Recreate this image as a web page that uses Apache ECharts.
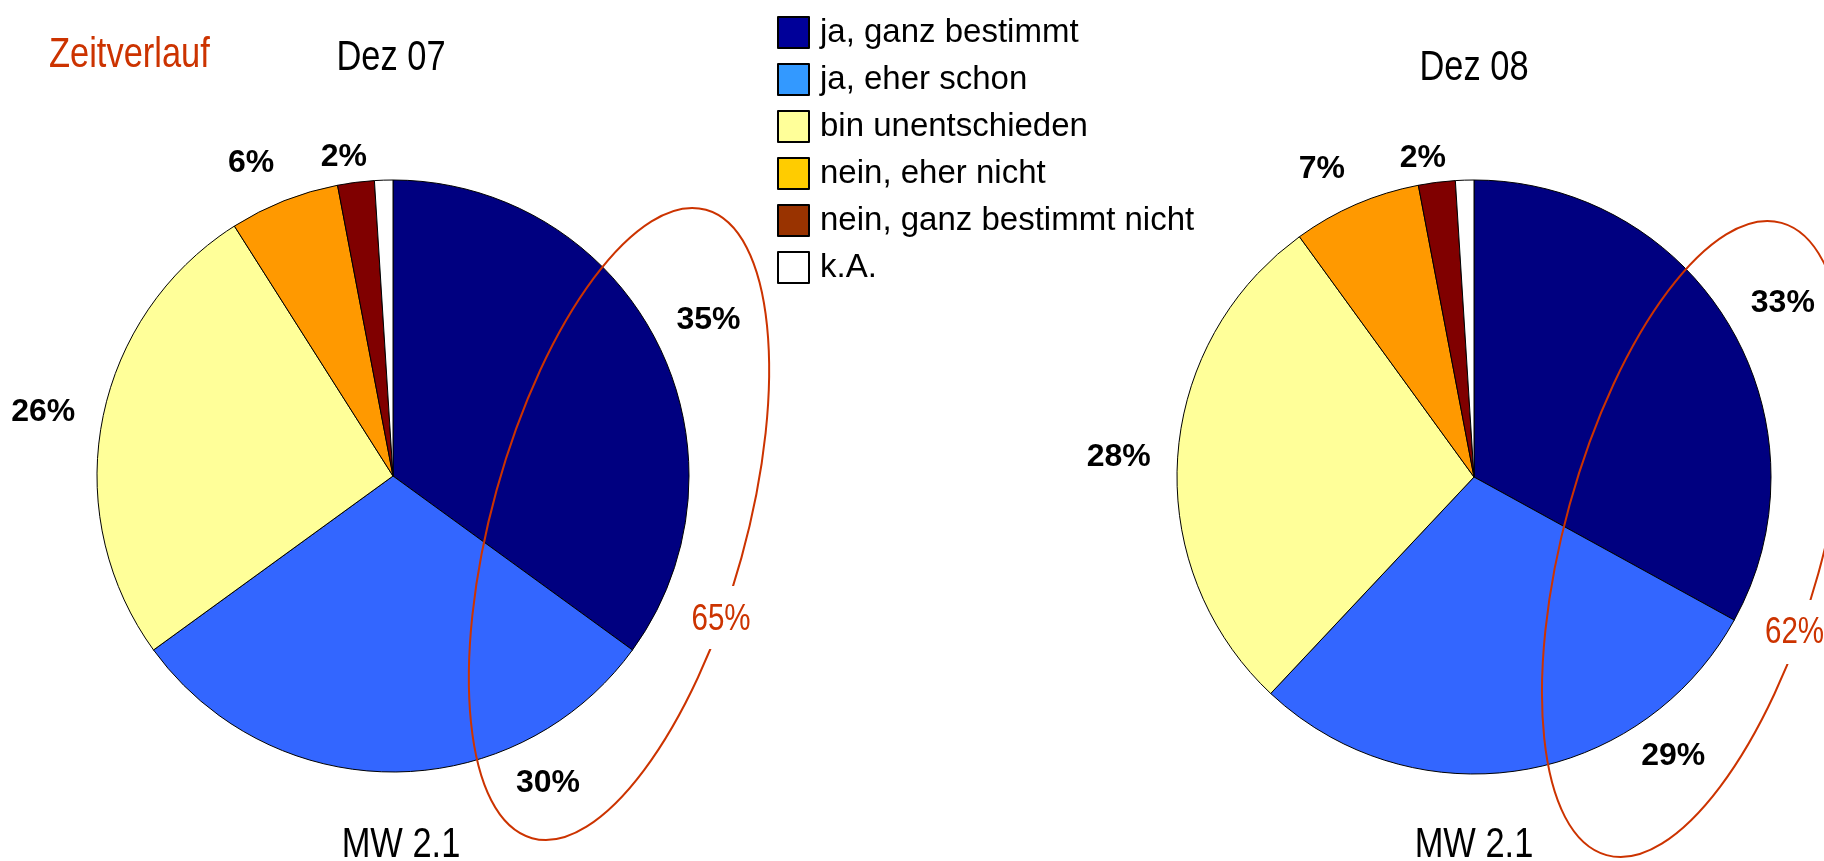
<!DOCTYPE html>
<html>
<head>
<meta charset="utf-8">
<script src="https://cdn.jsdelivr.net/npm/echarts@6/dist/echarts.min.js"></script>
<style>
  html, body { margin: 0; padding: 0; background: #fff; }
  #chart { width: 1824px; height: 861px; }
</style>
</head>
<body>
<div id="chart"></div>
<script>
// Antwortkategorien
const categories = ['ja, ganz bestimmt', 'ja, eher schon', 'bin unentschieden', 'nein, eher nicht', 'nein, ganz bestimmt nicht', 'k.A.']
// Anteile in Prozent
const valuesDez07 = [35, 30, 26, 6, 2, 1]
const valuesDez08 = [33, 29, 28, 7, 2, 1]
// Summe "ja" (ganz bestimmt + eher schon)
const jaSumDez07 = 65
const jaSumDez08 = 62
const titles = ['Dez 07', 'Dez 08']
const meanLabels = ['MW 2.1', 'MW 2.1']

const sliceColors = ['#000080', '#3366FF', '#FFFF99', '#FF9900', '#800000', '#FFFFFF']
const legendColors = ['#000099', '#3399FF', '#FFFF99', '#FFCC00', '#993300', '#FFFFFF']
const FONT = "'Liberation Sans Narrow', 'Arial Narrow', 'Liberation Sans', Arial, sans-serif"
const RED = '#CC3300'
const NARROW = 0.82 // schmale Schrift nachbilden

// kleine Verschiebungen der Beschriftungen (wie im Original)
const nudge07 = [[1, 4], [155, -46], [-3, 2], [-12, 15], [-5, 31], [0, 0]]
const nudge08 = [[5, 6], [144, -69], [-3, 2], [-12, 16], [-7, 31], [0, 0]]

const chart = echarts.init(document.getElementById('chart'))

const makePie = (values, center, radius) => ({
  type: 'pie',
  center: center,
  radius: radius,
  startAngle: 90,
  clockwise: true,
  silent: true,
  label: {show: false},
  labelLine: {show: false},
  itemStyle: {borderColor: '#000', borderWidth: 1},
  data: values.map((v, i) => ({
    name: categories[i],
    value: v,
    itemStyle: {color: sliceColors[i]}
  }))
})

// unsichtbarer Ring, nur für die Prozentbeschriftungen
const makeLabelRing = (values, center, nudge) => ({
  type: 'pie',
  center: center,
  radius: [330, 370],
  startAngle: 90,
  clockwise: true,
  silent: true,
  itemStyle: {color: 'rgba(0,0,0,0)', borderWidth: 0},
  labelLine: {show: false},
  label: {
    show: true,
    position: 'inside',
    formatter: '{c}%',
    color: '#000',
    fontFamily: FONT,
    fontWeight: 'bold',
    fontSize: 32
  },
  data: values.map((v, i) => ({
    name: categories[i],
    value: v,
    label: {show: i < 5, offset: nudge[i]}
  }))
})

const txt = (text, x, y, size, color, align) => ({
  type: 'text', x: x, y: y, scaleX: NARROW, z: 12,
  style: {text: text, fill: color, font: size + 'px ' + FONT, align: align || 'center', verticalAlign: 'middle'}
})

const option = {
  animation: false,
  backgroundColor: '#fff',
  legend: {
    orient: 'vertical',
    left: 777,
    top: 16,
    padding: 0,
    icon: 'rect',
    itemWidth: 31,
    itemHeight: 31,
    itemGap: 14,
    selectedMode: false,
    textStyle: {fontFamily: FONT, fontSize: 33, color: '#000', padding: [0, 0, 0, 6]},
    data: categories.map((c, i) => ({
      name: c,
      itemStyle: {color: legendColors[i], borderColor: '#000', borderWidth: 2}
    }))
  },
  series: [
    makePie(valuesDez07, [393, 476], 296),
    makePie(valuesDez08, [1474, 477], 297),
    makeLabelRing(valuesDez07, [393, 476], nudge07),
    makeLabelRing(valuesDez08, [1474, 477], nudge08)
  ],
  graphic: [
    txt('Zeitverlauf', 49, 55, 42, RED, 'left'),
    txt(titles[0], 391, 58, 42, '#000'),
    txt(titles[1], 1474, 68, 42, '#000'),
    txt(meanLabels[0], 401, 845, 42, '#000'),
    txt(meanLabels[1], 1474, 845, 42, '#000'),
    // Ellipsen um die "ja"-Anteile
    {type: 'ellipse', x: 619, y: 524, rotation: -0.27, shape: {cx: 0, cy: 0, rx: 127, ry: 326},
      style: {fill: null, stroke: RED, lineWidth: 2}, z: 10},
    {type: 'ellipse', x: 1694, y: 539, rotation: -0.27, shape: {cx: 0, cy: 0, rx: 129, ry: 328},
      style: {fill: null, stroke: RED, lineWidth: 2}, z: 10},
    {type: 'rect', shape: {x: 686, y: 586, width: 66, height: 63}, style: {fill: '#fff'}, z: 11},
    {type: 'rect', shape: {x: 1760, y: 600, width: 64, height: 64}, style: {fill: '#fff'}, z: 11},
    txt(jaSumDez07 + '%', 721, 620, 36, RED),
    txt(jaSumDez08 + '%', 1765, 633, 36, RED, 'left')
  ]
}

chart.setOption(option)
window.addEventListener('resize', () => chart.resize())
</script>
</body>
</html>
